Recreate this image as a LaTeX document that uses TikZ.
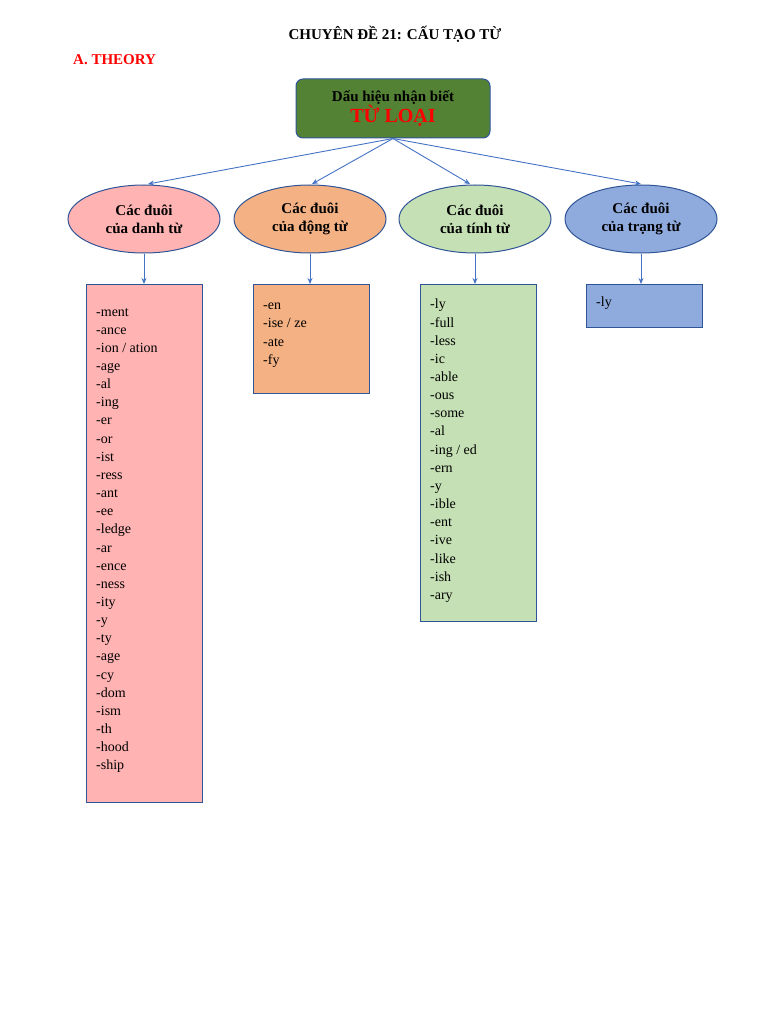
\documentclass[tikz,border=0pt]{standalone}
\usepackage{fontspec}
\setmainfont{Liberation Serif}
\usetikzlibrary{shapes.geometric,arrows.meta}
\definecolor{bord}{HTML}{2F5597}
\definecolor{arr}{HTML}{4472C4}
\definecolor{gr}{HTML}{548235}
\definecolor{pk}{HTML}{FFB3B3}
\definecolor{og}{HTML}{F4B183}
\definecolor{lg}{HTML}{C5E0B4}
\definecolor{bl}{HTML}{8FAADC}
\begin{document}
\begin{tikzpicture}[x=1pt,y=-1pt,
  ell/.style={ellipse,draw=bord,line width=1pt,minimum width=152pt,minimum height=68pt,align=center,font=\fontsize{15}{18}\selectfont\bfseries,inner sep=0pt},
  lbox/.style={draw=bord,line width=1pt,anchor=north west,inner sep=0pt},
  ltxt/.style={anchor=north west,align=left,font=\fontsize{14}{18.15}\selectfont,inner sep=0pt},
  con/.style={draw=arr,line width=0.9pt,-{Stealth[length=6pt,width=5pt]}}]
\useasboundingbox (0,0) rectangle (768,1024);
\node[font=\fontsize{15}{18}\selectfont\bfseries] (title) at (395,34) {CHUYÊN ĐỀ 21: CẤU TẠO TỪ};
\node[font=\fontsize{15}{18}\selectfont\bfseries,text=red,anchor=west,inner sep=0pt] (theory) at (73,60) {A. THEORY};
\node[draw=bord,fill=gr,line width=1pt,rounded corners=7pt,minimum width=194pt,minimum height=59pt,align=center,inner sep=0pt] (top) at (393,108.5)
 {{\fontsize{15}{18}\selectfont\bfseries Dấu hiệu nhận biết}\\[-1pt]{\fontsize{20}{22}\selectfont\bfseries\color{red}TỪ LOẠI}};
\node[ell,fill=pk] (e1) at (144,219) {Các đuôi\\của danh từ};
\node[ell,fill=og] (e2) at (310,219) {Các đuôi\\của động từ};
\node[ell,fill=lg] (e3) at (475,219) {Các đuôi\\của tính từ};
\node[ell,fill=bl] (e4) at (641,219) {Các đuôi\\của trạng từ};
\coordinate (t1) at (148,184);\coordinate (t2) at (312,184);
\coordinate (t3) at (470,184);\coordinate (t4) at (641,184);
\foreach \i in {1,2,3,4} \draw[con] (top.south) -- (t\i);
\node[lbox,fill=pk,minimum width=116pt,minimum height=518pt] (b1) at (86,284) {};
\node[lbox,fill=og,minimum width=116pt,minimum height=109pt] (b2) at (253,284) {};
\node[lbox,fill=lg,minimum width=116pt,minimum height=337pt] (b3) at (420,284) {};
\node[lbox,fill=bl,minimum width=116pt,minimum height=43pt] (b4) at (586,284) {};
\draw[con] (e1.south) -- (e1.south |- b1.north);
\draw[con] (e2.south) -- (e2.south |- b2.north);
\draw[con] (e3.south) -- (e3.south |- b3.north);
\draw[con] (e4.south) -- (e4.south |- b4.north);
\node[ltxt] (n1) at (96,308) {-ment\\-ance\\-ion / ation\\-age\\-al\\-ing\\-er\\-or\\-ist\\-ress\\-ant\\-ee\\-ledge\\-ar\\-ence\\-ness\\-ity\\-y\\-ty\\-age\\-cy\\-dom\\-ism\\-th\\-hood\\-ship};
\node[ltxt] (n2) at (263,303) {-en\\-ise / ze\\-ate\\-fy};
\node[ltxt] (n3) at (430,299) {-ly\\-full\\-less\\-ic\\-able\\-ous\\-some\\-al\\-ing / ed\\-ern\\-y\\-ible\\-ent\\-ive\\-like\\-ish\\-ary};
\node[ltxt] (n4) at (596,297) {-ly};
\end{tikzpicture}
\end{document}
